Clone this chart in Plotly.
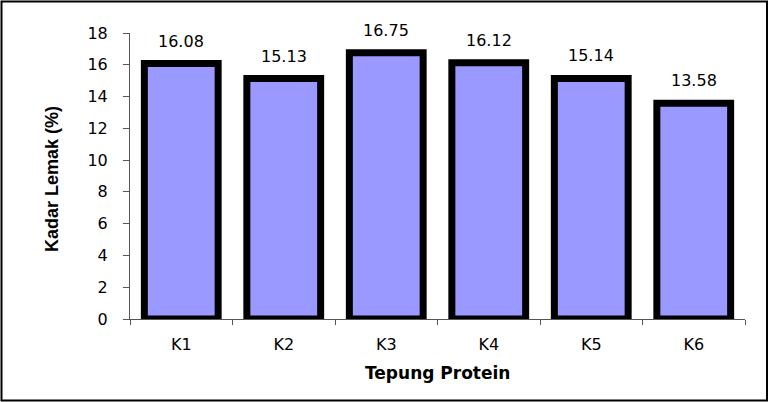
import plotly.graph_objects as go

categories = ["K1", "K2", "K3", "K4", "K5", "K6"]
values = [16.08, 15.13, 16.75, 16.12, 15.14, 13.58]
value_labels = ["16.08", "15.13", "16.75", "16.12", "15.14", "13.58"]
y_ticks = [0, 2, 4, 6, 8, 10, 12, 14, 16, 18]

FONT = "DejaVu Sans, Verdana, sans-serif"

fig = go.Figure()
fig.add_trace(go.Bar(
    x=categories, y=values,
    marker=dict(color="#9999FF", line=dict(color="black", width=7)),
    width=0.72,
))

W, H = 770, 402
L, R, T, B = 130, 25, 33, 83
pw, ph = W - L - R, H - T - B

def px(x):
    return (x - L) / pw

def py(y):
    return (H - B - y) / ph

annotations = [
    dict(text=lab, x=c, y=v, xref="x", yref="y", showarrow=False,
         xanchor="center", yanchor="bottom", yshift=11,
         font=dict(family=FONT, size=16, color="black"))
    for c, v, lab in zip(categories, values, value_labels)
]
annotations += [
    dict(text="<b>Tepung Protein</b>", x=0.5, y=py(373), xref="paper", yref="paper",
         showarrow=False, font=dict(size=17, family=FONT),
         xanchor="center", yanchor="middle"),
    dict(text="<b>Kadar Lemak (%)</b>", x=px(52), y=py(179), xref="paper", yref="paper",
         showarrow=False, textangle=-90,
         font=dict(size=18, family="Liberation Sans Narrow, Arial Narrow, Liberation Sans, Arial, sans-serif"),
         xanchor="center", yanchor="middle"),
]

fig.update_layout(
    width=W, height=H,
    margin=dict(l=L, r=R, t=T, b=B),
    paper_bgcolor="white", plot_bgcolor="white",
    showlegend=False,
    font=dict(family=FONT, size=16, color="black"),
    xaxis=dict(
        showline=True, linecolor="#555", linewidth=1,
        ticks="outside", tickson="boundaries", ticklen=5, tickcolor="#555",
        tickfont=dict(size=16), showgrid=False, ticklabelstandoff=11,
    ),
    yaxis=dict(
        range=[0, 18], tickvals=y_ticks,
        showline=True, linecolor="#555", linewidth=1,
        ticks="outside", ticklen=6, tickcolor="#555",
        tickfont=dict(size=16), showgrid=False, zeroline=False, ticklabelstandoff=12,
    ),
    annotations=annotations,
    shapes=[
        dict(type="rect", xref="paper", yref="paper",
             x0=px(1.5), x1=px(767), y0=py(400.5), y1=py(1.5),
             line=dict(color="black", width=2), fillcolor="rgba(0,0,0,0)", layer="below"),
    ],
)

fig.write_html("out.html")
